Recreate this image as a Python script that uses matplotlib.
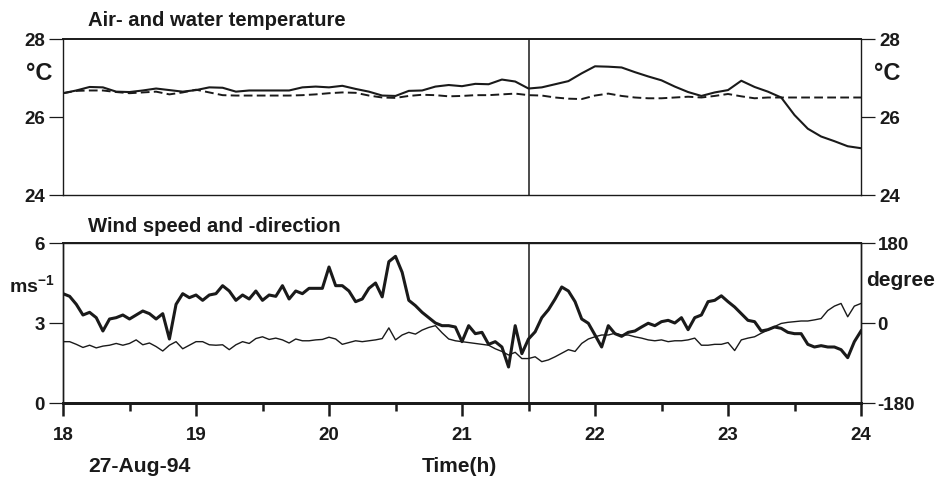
import numpy as np
import matplotlib
matplotlib.use("Agg")
import matplotlib.pyplot as plt

plt.rcParams['font.family'] = ['Liberation Sans', 'DejaVu Sans']
plt.rcParams['font.weight'] = 'bold'
plt.rcParams['mathtext.fontset'] = 'custom'
plt.rcParams['mathtext.rm'] = 'Liberation Sans:bold'
plt.rcParams['axes.unicode_minus'] = False

# temperatures, every 0.1 h from 18 to 24
t_temp = np.linspace(18, 24, 61)
air_temp = [26.61, 26.68, 26.77, 26.76, 26.65, 26.64, 26.68, 26.73, 26.69, 26.65,
            26.69, 26.76, 26.75, 26.65, 26.68, 26.68, 26.68, 26.68, 26.76, 26.78,
            26.76, 26.80, 26.72, 26.65, 26.55, 26.54, 26.67, 26.68, 26.78, 26.82,
            26.79, 26.85, 26.84, 26.96, 26.91, 26.73, 26.76, 26.84, 26.92, 27.12,
            27.30, 27.29, 27.27, 27.15, 27.04, 26.94, 26.78, 26.64, 26.54, 26.63,
            26.69, 26.93, 26.77, 26.65, 26.50, 26.05, 25.70, 25.50, 25.38, 25.25,
            25.20]
water_temp = [26.61, 26.67, 26.68, 26.68, 26.64, 26.61, 26.63, 26.65, 26.58, 26.63,
              26.70, 26.63, 26.56, 26.55, 26.55, 26.55, 26.55, 26.55, 26.56, 26.58,
              26.61, 26.63, 26.62, 26.55, 26.50, 26.49, 26.54, 26.57, 26.56, 26.53,
              26.54, 26.56, 26.56, 26.58, 26.60, 26.56, 26.55, 26.50, 26.47, 26.46,
              26.55, 26.60, 26.54, 26.50, 26.48, 26.48, 26.50, 26.52, 26.50, 26.54,
              26.59, 26.53, 26.48, 26.50, 26.50, 26.50, 26.50, 26.50, 26.50, 26.50,
              26.50]

# wind, every 0.05 h from 18 to 24
t_wind = np.linspace(18, 24, 121)
wind_speed = [4.1, 4.0, 3.7, 3.3, 3.4, 3.2, 2.7, 3.15, 3.2, 3.3,
              3.15, 3.3, 3.45, 3.35, 3.15, 3.35, 2.4, 3.7, 4.1, 3.95,
              4.05, 3.85, 4.05, 4.1, 4.4, 4.2, 3.85, 4.05, 3.9, 4.2,
              3.85, 4.05, 4.0, 4.4, 3.9, 4.2, 4.1, 4.3, 4.3, 4.3,
              5.1, 4.4, 4.4, 4.2, 3.8, 3.9, 4.3, 4.5, 3.98, 5.3,
              5.5, 4.9, 3.85, 3.65, 3.4, 3.2, 3.0, 2.9, 2.9, 2.85,
              2.3, 2.9, 2.6, 2.65, 2.2, 2.3, 2.1, 1.35, 2.9, 1.85,
              2.4, 2.67, 3.2, 3.5, 3.9, 4.35, 4.2, 3.8, 3.15, 2.99,
              2.55, 2.1, 2.9, 2.6, 2.5, 2.65, 2.7, 2.85, 2.99, 2.9,
              3.05, 3.1, 3.0, 3.2, 2.75, 3.2, 3.3, 3.8, 3.85, 4.02,
              3.8, 3.6, 3.35, 3.1, 3.05, 2.7, 2.75, 2.85, 2.8, 2.65,
              2.6, 2.6, 2.2, 2.1, 2.15, 2.1, 2.1, 2.0, 1.7, 2.3,
              2.7]
wind_dir = [-42, -42, -48, -55, -50, -56, -52, -50, -46, -50,
            -46, -38, -49, -45, -53, -63, -50, -42, -58, -50,
            -42, -42, -49, -50, -49, -60, -49, -42, -46, -35,
            -31, -37, -34, -38, -45, -36, -40, -40, -38, -37,
            -32, -36, -48, -44, -40, -42, -40, -38, -35, -11,
            -38, -27, -21, -25, -16, -10, -6, -22, -36, -40,
            -42, -44, -46, -48, -50, -58, -64, -72, -66, -80,
            -80, -76, -87, -83, -76, -68, -60, -64, -46, -36,
            -31, -27, -27, -23, -27, -27, -31, -34, -38, -40,
            -38, -42, -40, -40, -38, -34, -50, -50, -48, -48,
            -44, -62, -38, -34, -31, -23, -16, -8, -1, 1.5,
            3, 4.5, 4.5, 7, 10, 28, 38, 44, 14, 38,
            44]

x_ticks = [18, 19, 20, 21, 22, 23, 24]
temp_ticks = [24, 26, 28]
speed_ticks = [0, 3, 6]
dir_ticks = [-180, 0, 180]
t_mark = 21.5

W, H = 939, 478
ink = '#1a1a1a'
fig = plt.figure(figsize=(W / 100, H / 100), dpi=100)


def fx(x):
    return x / W


def fy(y):
    return 1 - y / H


ax1 = fig.add_axes([fx(63), fy(195), fx(861) - fx(63), fy(39) - fy(195)])
ax2 = fig.add_axes([fx(63), fy(403), fx(861) - fx(63), fy(243) - fy(403)])
ax2r = ax2.twinx()

ax1.plot(t_temp, air_temp, color=ink, lw=1.5)
ax1.plot(t_temp, water_temp, color=ink, lw=1.4, dashes=(4.5, 2.2))
ax1.axvline(t_mark, color=ink, lw=1.1)
ax1.set_xlim(18, 24)
ax1.set_ylim(24, 28)
ax1.set_yticks(temp_ticks)
ax1.set_xticks([])
ax1.tick_params(axis='y', direction='out', length=10, width=0.9, pad=3,
                labelsize=13.5, right=True, labelright=True, colors=ink)

ax2.plot(t_wind, wind_speed, color=ink, lw=2.2, zorder=3)
ax2r.plot(t_wind, wind_dir, color=ink, lw=1.0)
ax2.axvline(t_mark, color=ink, lw=1.1)
ax2.set_xlim(18, 24)
ax2.set_ylim(0, 6)
ax2r.set_ylim(-180, 180)
ax2.set_yticks(speed_ticks)
ax2r.set_yticks(dir_ticks)
ax2.set_xticks(x_ticks)
ax2.set_xticks(np.arange(18.5, 24, 1.0), minor=True)
ax2.tick_params(axis='y', direction='out', length=10, width=0.9, pad=3,
                labelsize=13.5, colors=ink)
ax2r.tick_params(axis='y', direction='out', length=10, width=0.9, pad=2,
                 labelsize=13.5, colors=ink)
ax2.tick_params(axis='x', which='major', direction='out', length=9, width=1.8,
                pad=8.5, labelsize=13.5, colors=ink)
ax2.tick_params(axis='x', which='minor', direction='out', length=6, width=1.8,
                colors=ink)

for ax in (ax1, ax2, ax2r):
    for sp in ax.spines.values():
        sp.set_color(ink)
        sp.set_linewidth(1.0)
ax1.spines['top'].set_linewidth(1.4)
ax2.spines['top'].set_linewidth(1.4)
ax2.spines['bottom'].set_linewidth(2.0)
ax2r.spines['bottom'].set_linewidth(2.0)

fig.text(fx(88), fy(20), 'Air- and water temperature', fontsize=14.6,
         va='center', ha='left', color=ink)
fig.text(fx(88), fy(226), 'Wind speed and -direction', fontsize=14.6,
         va='center', ha='left', color=ink)
fig.text(fx(39), fy(73), '°C', fontsize=17, va='center', ha='center', color=ink)
fig.text(fx(887), fy(73), '°C', fontsize=17, va='center', ha='center', color=ink)
fig.text(fx(32), fy(286), r'ms$^{\mathrm{-1}}$', fontsize=14, va='center',
         ha='center', color=ink)
fig.text(fx(901), fy(281), 'degree', fontsize=15, va='center', ha='center',
         color=ink)
fig.text(fx(88), fy(467), '27-Aug-94', fontsize=15.2, va='center', ha='left',
         color=ink)
fig.text(fx(459), fy(467), 'Time(h)', fontsize=15, va='center', ha='center',
         color=ink)

fig.savefig('out.png', dpi=100)
